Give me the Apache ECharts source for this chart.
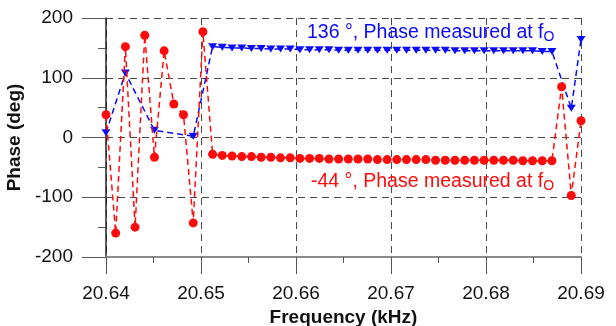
<!DOCTYPE html>
<html>
<head>
<meta charset="utf-8">
<script src="https://cdn.jsdelivr.net/npm/echarts@6/dist/echarts.min.js"></script>
<style>
  html, body { margin: 0; padding: 0; background: #ffffff; }
  #chart { width: 616px; height: 326px; }
</style>
</head>
<body>
<div id="chart"></div>
<script>
// Sweep frequencies (kHz), 50 steps from 20.640 to 20.690
var frequency = [
  20.64000, 20.64102, 20.64204, 20.64306, 20.64408, 20.64510, 20.64612, 20.64714, 20.64816, 20.64918,
  20.65020, 20.65122, 20.65224, 20.65327, 20.65429, 20.65531, 20.65633, 20.65735, 20.65837, 20.65939,
  20.66041, 20.66143, 20.66245, 20.66347, 20.66449, 20.66551, 20.66653, 20.66755, 20.66857, 20.66959,
  20.67061, 20.67163, 20.67265, 20.67367, 20.67469, 20.67571, 20.67673, 20.67776, 20.67878, 20.67980,
  20.68082, 20.68184, 20.68286, 20.68388, 20.68490, 20.68592, 20.68694, 20.68796, 20.68898, 20.69000
];

// Phase of the first channel (deg), blue triangles; null where no sample was kept
var phaseBlue = [
  8, null, 108, null, null, 12, null, null, null, 2,
  null, 152, 151, 150, 150, 149, 149, 148, 148, 148,
  147, 147, 147, 147, 146, 146, 146, 146, 146, 146,
  146, 146, 146, 146, 146, 146, 145, 145, 145, 145,
  145, 145, 145, 145, 145, 144, 144, null, 49, 164
];

// Phase of the second channel (deg), red circles
var phaseRed = [
  38, -160, 152, -150, 171, -33, 145, 56, 38, -143,
  177, -28, -30, -31, -32, -32, -33, -33, -34, -34,
  -35, -35, -35, -36, -36, -36, -36, -36, -37, -37,
  -37, -37, -37, -37, -38, -38, -38, -38, -38, -38,
  -38, -38, -38, -39, -39, -39, -39, 85, -97, 28
];

var xTicks = { min: 20.64, max: 20.69, step: 0.01 };
var yTicks = { min: -200, max: 200, step: 100 };

var blueLabel = { value: '136 °', text: ', Phase measured at f', sub: 'O' };
var redLabel = { value: '-44 °', text: ', Phase measured at f', sub: 'O' };

function pairs(ys) {
  return frequency.map(function (f, i) { return [f, ys[i]]; });
}

var FONT = '"Liberation Sans", Arial, sans-serif';
var BLUE = '#0a0aff';
var RED = '#ff0a0a';

var chart = echarts.init(document.getElementById('chart'), null, { renderer: 'canvas' });

function richLabel(color) {
  return {
    m: { fontSize: 19.5, fontFamily: FONT, fill: color, lineHeight: 22 },
    s: { fontSize: 14, fontFamily: FONT, fill: color, lineHeight: 12, verticalAlign: 'bottom' }
  };
}

var gridSplit = { show: true, lineStyle: { color: '#4a4a4a', type: [7, 5], width: 1 } };

chart.setOption({
  animation: false,
  backgroundColor: '#ffffff',
  grid: { left: 106, right: 35, top: 18, bottom: 69, containLabel: false, outerBoundsMode: 'none' },
  xAxis: {
    type: 'value',
    min: xTicks.min,
    max: xTicks.max,
    interval: xTicks.step,
    name: 'Frequency (kHz)',
    nameLocation: 'middle',
    nameGap: 43,
    nameTextStyle: { fontSize: 19, fontWeight: 'bold', fontFamily: FONT, color: '#111' },
    axisLine: { show: true, onZero: false, lineStyle: { color: '#8a8a8a', width: 2 } },
    axisTick: { show: true, inside: false, length: 17, lineStyle: { color: '#555', width: 1 } },
    minorTick: { show: true, splitNumber: 2, length: 6, lineStyle: { color: '#555', width: 1 } },
    axisLabel: {
      margin: 27, fontSize: 19, fontFamily: FONT, color: '#111',
      formatter: function (v) { return v.toFixed(2); }
    },
    splitLine: gridSplit
  },
  yAxis: {
    type: 'value',
    min: yTicks.min,
    max: yTicks.max,
    interval: yTicks.step,
    name: 'Phase (deg)',
    nameLocation: 'middle',
    nameGap: 67,
    nameTextStyle: { fontSize: 19, fontWeight: 'bold', fontFamily: FONT, color: '#111' },
    axisLine: { show: true, onZero: false, lineStyle: { color: '#222', width: 1.5 } },
    axisTick: { show: true, inside: false, length: 24, lineStyle: { color: '#555', width: 1 } },
    minorTick: { show: true, splitNumber: 2, length: 8, lineStyle: { color: '#555', width: 1 } },
    axisLabel: { margin: 33, fontSize: 19, fontFamily: FONT, color: '#111' },
    splitLine: gridSplit
  },
  series: [
    {
      name: 'blue',
      type: 'line',
      data: pairs(phaseBlue),
      connectNulls: true,
      symbol: 'triangle',
      symbolRotate: 180,
      symbolSize: [9, 7],
      itemStyle: { color: BLUE },
      lineStyle: { color: BLUE, width: 1.5, type: [6, 4] },
      z: 2
    },
    {
      name: 'red',
      type: 'line',
      data: pairs(phaseRed),
      symbol: 'circle',
      symbolSize: 9,
      itemStyle: { color: RED },
      lineStyle: { color: RED, width: 1.5, type: [6, 4] },
      z: 3
    }
  ],
  graphic: [
    {
      type: 'text', left: 307, top: 23, z: 10,
      style: {
        text: '{m|' + blueLabel.value + blueLabel.text + '}{s|' + blueLabel.sub + '}',
        rich: richLabel(BLUE)
      }
    },
    {
      type: 'text', left: 311, top: 172, z: 10,
      style: {
        text: '{m|' + redLabel.value + redLabel.text + '}{s|' + redLabel.sub + '}',
        rich: richLabel(RED)
      }
    }
  ]
});
</script>
</body>
</html>
